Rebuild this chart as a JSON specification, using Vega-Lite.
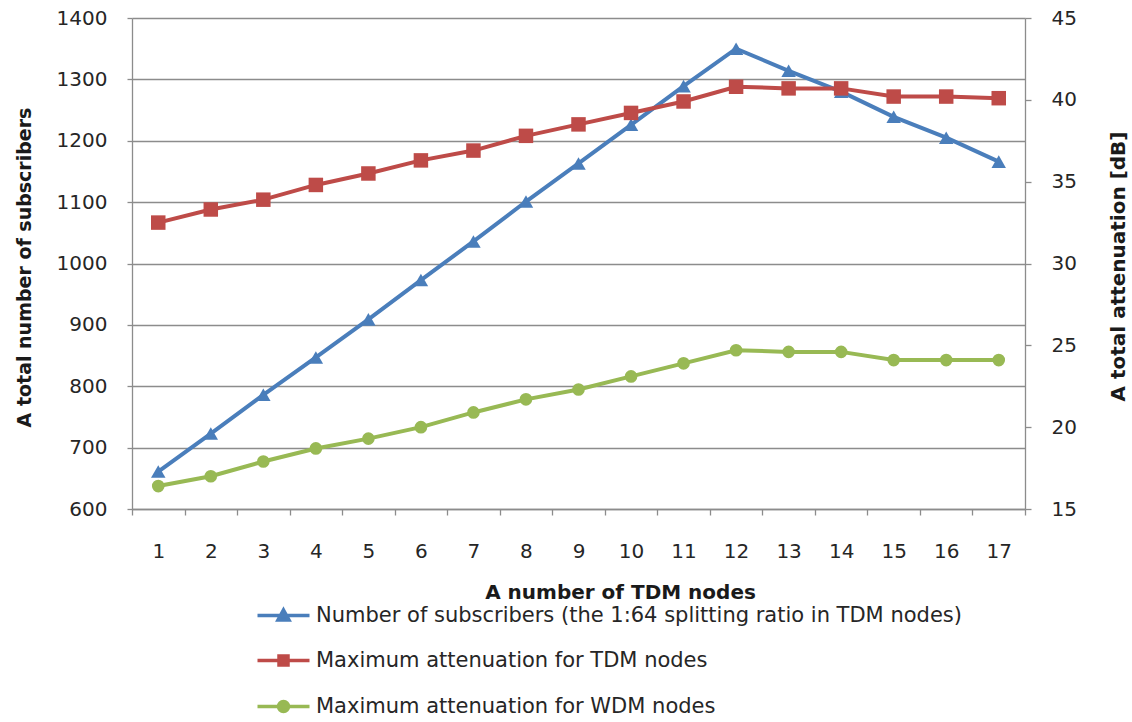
{
  "$schema": "https://vega.github.io/schema/vega-lite/v6.json",
  "width": 893,
  "height": 491,
  "autosize": {"type": "none"},
  "padding": {"left": 132, "top": 18, "right": 107, "bottom": 213},
  "background": "white",
  "config": {
    "view": {"stroke": null},
    "font": "DejaVu Sans",
    "axis": {
      "labelFont": "DejaVu Sans",
      "labelFontSize": 20,
      "labelColor": "#262626",
      "titleFont": "DejaVu Sans",
      "titleFontSize": 20,
      "titleFontWeight": "bold",
      "titleColor": "#1a1a1a",
      "domainColor": "#8c8c8c",
      "domainWidth": 1.3,
      "tickColor": "#8c8c8c",
      "tickWidth": 1.3,
      "gridColor": "#8c8c8c",
      "gridWidth": 1.3
    }
  },
  "data": {
    "values": [
      {"node": 1, "series": "Number of subscribers (the 1:64 splitting ratio in TDM nodes)", "value": 661},
      {"node": 2, "series": "Number of subscribers (the 1:64 splitting ratio in TDM nodes)", "value": 723},
      {"node": 3, "series": "Number of subscribers (the 1:64 splitting ratio in TDM nodes)", "value": 786},
      {"node": 4, "series": "Number of subscribers (the 1:64 splitting ratio in TDM nodes)", "value": 847},
      {"node": 5, "series": "Number of subscribers (the 1:64 splitting ratio in TDM nodes)", "value": 909},
      {"node": 6, "series": "Number of subscribers (the 1:64 splitting ratio in TDM nodes)", "value": 973},
      {"node": 7, "series": "Number of subscribers (the 1:64 splitting ratio in TDM nodes)", "value": 1036},
      {"node": 8, "series": "Number of subscribers (the 1:64 splitting ratio in TDM nodes)", "value": 1101},
      {"node": 9, "series": "Number of subscribers (the 1:64 splitting ratio in TDM nodes)", "value": 1163},
      {"node": 10, "series": "Number of subscribers (the 1:64 splitting ratio in TDM nodes)", "value": 1226},
      {"node": 11, "series": "Number of subscribers (the 1:64 splitting ratio in TDM nodes)", "value": 1289},
      {"node": 12, "series": "Number of subscribers (the 1:64 splitting ratio in TDM nodes)", "value": 1350},
      {"node": 13, "series": "Number of subscribers (the 1:64 splitting ratio in TDM nodes)", "value": 1314},
      {"node": 14, "series": "Number of subscribers (the 1:64 splitting ratio in TDM nodes)", "value": 1280},
      {"node": 15, "series": "Number of subscribers (the 1:64 splitting ratio in TDM nodes)", "value": 1239},
      {"node": 16, "series": "Number of subscribers (the 1:64 splitting ratio in TDM nodes)", "value": 1205},
      {"node": 17, "series": "Number of subscribers (the 1:64 splitting ratio in TDM nodes)", "value": 1166},
      {"node": 1, "series": "Maximum attenuation for TDM nodes", "value": 32.5},
      {"node": 2, "series": "Maximum attenuation for TDM nodes", "value": 33.3},
      {"node": 3, "series": "Maximum attenuation for TDM nodes", "value": 33.9},
      {"node": 4, "series": "Maximum attenuation for TDM nodes", "value": 34.8},
      {"node": 5, "series": "Maximum attenuation for TDM nodes", "value": 35.5},
      {"node": 6, "series": "Maximum attenuation for TDM nodes", "value": 36.3},
      {"node": 7, "series": "Maximum attenuation for TDM nodes", "value": 36.9},
      {"node": 8, "series": "Maximum attenuation for TDM nodes", "value": 37.8},
      {"node": 9, "series": "Maximum attenuation for TDM nodes", "value": 38.5},
      {"node": 10, "series": "Maximum attenuation for TDM nodes", "value": 39.2},
      {"node": 11, "series": "Maximum attenuation for TDM nodes", "value": 39.9},
      {"node": 12, "series": "Maximum attenuation for TDM nodes", "value": 40.8},
      {"node": 13, "series": "Maximum attenuation for TDM nodes", "value": 40.7},
      {"node": 14, "series": "Maximum attenuation for TDM nodes", "value": 40.7},
      {"node": 15, "series": "Maximum attenuation for TDM nodes", "value": 40.2},
      {"node": 16, "series": "Maximum attenuation for TDM nodes", "value": 40.2},
      {"node": 17, "series": "Maximum attenuation for TDM nodes", "value": 40.1},
      {"node": 1, "series": "Maximum attenuation for WDM nodes", "value": 16.4},
      {"node": 2, "series": "Maximum attenuation for WDM nodes", "value": 17.0},
      {"node": 3, "series": "Maximum attenuation for WDM nodes", "value": 17.9},
      {"node": 4, "series": "Maximum attenuation for WDM nodes", "value": 18.7},
      {"node": 5, "series": "Maximum attenuation for WDM nodes", "value": 19.3},
      {"node": 6, "series": "Maximum attenuation for WDM nodes", "value": 20.0},
      {"node": 7, "series": "Maximum attenuation for WDM nodes", "value": 20.9},
      {"node": 8, "series": "Maximum attenuation for WDM nodes", "value": 21.7},
      {"node": 9, "series": "Maximum attenuation for WDM nodes", "value": 22.3},
      {"node": 10, "series": "Maximum attenuation for WDM nodes", "value": 23.1},
      {"node": 11, "series": "Maximum attenuation for WDM nodes", "value": 23.9},
      {"node": 12, "series": "Maximum attenuation for WDM nodes", "value": 24.7},
      {"node": 13, "series": "Maximum attenuation for WDM nodes", "value": 24.6},
      {"node": 14, "series": "Maximum attenuation for WDM nodes", "value": 24.6},
      {"node": 15, "series": "Maximum attenuation for WDM nodes", "value": 24.1},
      {"node": 16, "series": "Maximum attenuation for WDM nodes", "value": 24.1},
      {"node": 17, "series": "Maximum attenuation for WDM nodes", "value": 24.1}
    ]
  },
  "encoding": {
    "x": {
      "field": "node",
      "type": "ordinal",
      "scale": {"type": "band", "paddingInner": 0, "paddingOuter": 0},
      "axis": {
        "title": "A number of TDM nodes",
        "labelAngle": 0,
        "tickBand": "extent",
        "tickSize": 6,
        "labelPadding": 26,
        "titleX": 488,
        "titleY": 83,
        "titleAlign": "center",
        "titleBaseline": "middle"
      }
    },
    "color": {
      "field": "series",
      "type": "nominal",
      "scale": {
        "domain": ["Number of subscribers (the 1:64 splitting ratio in TDM nodes)", "Maximum attenuation for TDM nodes", "Maximum attenuation for WDM nodes"],
        "range": ["#4A7EBB", "#BE4B48", "#98B954"]
      },
      "legend": {
        "title": null,
        "orient": "none",
        "legendX": 141,
        "legendY": 587,
        "direction": "vertical",
        "padding": 0,
        "labelFont": "DejaVu Sans",
        "labelFontSize": 21,
        "labelColor": "#262626",
        "symbolSize": 100,
        "symbolOffset": 0,
        "labelOffset": 22,
        "rowPadding": 22,
        "labelLimit": 900,
        "encode": {
          "symbols": {
            "update": {
              "shape": {"signal": "datum.value === 'Number of subscribers (the 1:64 splitting ratio in TDM nodes)' ? 'M-5.2,0H5.2M0,-1.1L1.1,0.9L-1.1,0.9Z' : datum.value === 'Maximum attenuation for TDM nodes' ? 'M-5.2,0H5.2M-0.9,-0.9H0.9V0.9H-0.9Z' : 'M-5.2,0H5.2M1,0A1,1,0,1,1,-1,0A1,1,0,1,1,1,0Z'"},
              "fill": {"signal": "datum.value === 'Number of subscribers (the 1:64 splitting ratio in TDM nodes)' ? '#4A7EBB' : datum.value === 'Maximum attenuation for TDM nodes' ? '#BE4B48' : '#98B954'"},
              "stroke": {"signal": "datum.value === 'Number of subscribers (the 1:64 splitting ratio in TDM nodes)' ? '#4A7EBB' : datum.value === 'Maximum attenuation for TDM nodes' ? '#BE4B48' : '#98B954'"},
              "strokeWidth": {"value": 3.5},
              "opacity": {"value": 1},
              "size": {"value": 100}
            }
          }
        }
      }
    }
  },
  "layer": [
    {
      "transform": [{"filter": "datum.series === 'Number of subscribers (the 1:64 splitting ratio in TDM nodes)'"}],
      "encoding": {
        "y": {
          "field": "value",
          "type": "quantitative",
          "scale": {"domain": [600, 1400], "nice": false, "zero": false},
          "axis": {
            "orient": "left",
            "title": "A total number of subscribers",
            "values": [600, 700, 800, 900, 1000, 1100, 1200, 1300, 1400],
            "format": "d",
            "grid": true,
            "tickSize": 5,
            "labelPadding": 20,
            "titleFontSize": 19,
            "titleAngle": 270,
            "titleX": -108,
            "titleY": 249,
            "titleAlign": "center",
            "titleBaseline": "middle"
          }
        }
      },
      "layer": [
        {"mark": {"type": "line", "strokeWidth": 4}, "encoding": {}},
        {"mark": {"type": "point", "shape": "triangle-up", "filled": true, "opacity": 1, "size": 210}, "encoding": {}}
      ]
    },
    {
      "transform": [{"filter": "datum.series !== 'Number of subscribers (the 1:64 splitting ratio in TDM nodes)'"}],
      "encoding": {
        "y": {
          "field": "value",
          "type": "quantitative",
          "scale": {"domain": [15, 45], "nice": false, "zero": false},
          "axis": {
            "orient": "right",
            "title": "A total attenuation [dB]",
            "values": [15, 20, 25, 30, 35, 40, 45],
            "grid": false,
            "tickSize": 6,
            "labelPadding": 20,
            "titleAngle": 270,
            "titleX": 93,
            "titleY": 248,
            "titleAlign": "center",
            "titleBaseline": "middle"
          }
        }
      },
      "layer": [
        {"mark": {"type": "line", "strokeWidth": 4}, "encoding": {"detail": {"field": "series"}}},
        {"mark": {"type": "point", "filled": true, "opacity": 1}, "encoding": {
          "shape": {"field": "series", "type": "nominal", "scale": {"domain": ["Maximum attenuation for TDM nodes", "Maximum attenuation for WDM nodes"], "range": ["square", "circle"]}, "legend": null},
          "size": {"field": "series", "type": "nominal", "scale": {"domain": ["Maximum attenuation for TDM nodes", "Maximum attenuation for WDM nodes"], "range": [210, 160]}, "legend": null}
        }}
      ]
    }
  ],
  "resolve": {"scale": {"y": "independent"}}
}
